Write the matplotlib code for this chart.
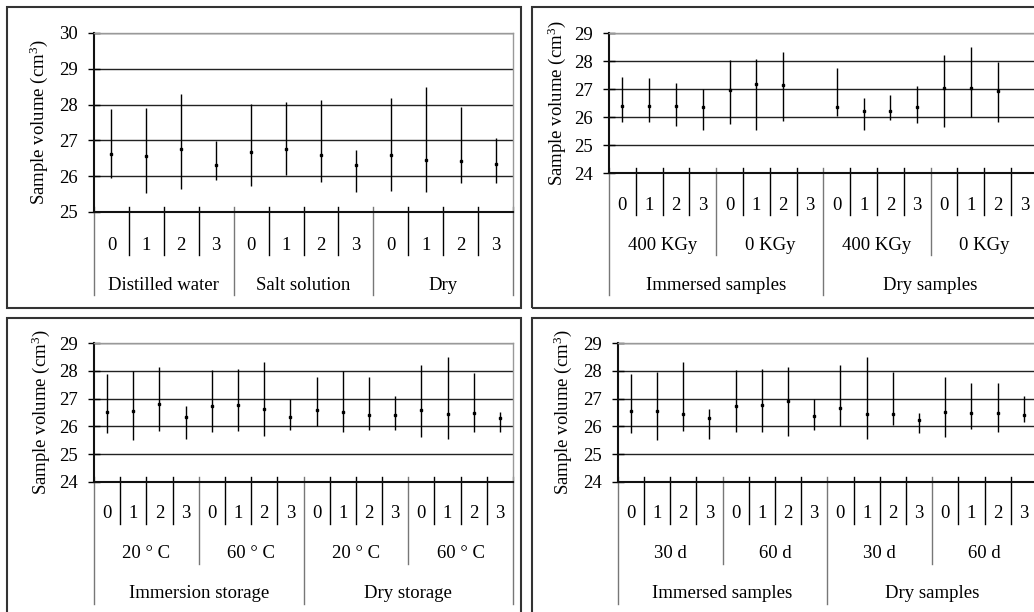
import numpy as np
import matplotlib
matplotlib.use("Agg")
import matplotlib.pyplot as plt
from matplotlib.patches import Rectangle
from matplotlib.transforms import blended_transform_factory

plt.rcParams['font.family'] = ['Liberation Serif', 'DejaVu Serif']
plt.rcParams['mathtext.fontset'] = 'custom'
plt.rcParams['mathtext.rm'] = 'Liberation Serif'
plt.rcParams['mathtext.it'] = 'Liberation Serif:italic'

W, H = 1034, 612
FS = 13.5
nan = np.nan

# --- data ---
digits = ['0', '1', '2', '3']

# panel A: storage medium
a_groups = ['Distilled water', 'Salt solution', 'Dry']
a_low = [25.95, 25.53, 25.64, 25.88, 25.72, 26.02, 25.83, 25.55, 25.60, 25.55, 25.81, 25.81]
a_high = [27.88, 27.90, 28.30, 26.99, 28.02, 28.07, 28.13, 26.72, 28.18, 28.48, 27.92, 27.08]
a_mean = [26.62, 26.56, 26.76, 26.30, 26.68, 26.76, 26.58, 26.30, 26.58, 26.46, 26.43, 26.34]

# panel B: irradiation
b_sub = ['400 KGy', '0 KGy', '400 KGy', '0 KGy']
b_groups = ['Immersed samples', 'Dry samples']
b_low = [25.81, 25.81, 25.67, 25.55, 25.75, 25.52, 25.85, nan,
         26.02, 25.55, 25.90, 25.79, 25.63, 25.99, 25.81, nan]
b_high = [27.42, 27.39, 27.21, 27.00, 28.05, 28.07, 28.31, nan,
          27.75, 26.68, 26.77, 27.10, 28.23, 28.49, 27.95, nan]
b_mean = [26.40, 26.40, 26.40, 26.35, 26.98, 27.18, 27.15, nan,
          26.35, 26.23, 26.23, 26.37, 27.04, 27.04, 26.92, nan]

# panel C: storage temperature
c_sub = ['20 ° C', '60 ° C', '20 ° C', '60 ° C']
c_groups = ['Immersion storage', 'Dry storage']
c_low = [25.76, 25.52, 25.85, 25.56, 25.80, 25.82, 25.64, 25.88,
         26.00, 25.80, 25.88, 25.88, 25.62, 25.56, 25.80, 25.79]
c_high = [27.88, 28.00, 28.12, 26.75, 28.04, 28.08, 28.32, 26.99,
          27.76, 28.00, 27.76, 27.08, 28.20, 28.48, 27.92, 26.52]
c_mean = [26.52, 26.57, 26.81, 26.33, 26.72, 26.78, 26.63, 26.33,
          26.60, 26.52, 26.42, 26.42, 26.60, 26.46, 26.48, 26.30]

# panel D: storage time
d_sub = ['30 d', '60 d', '30 d', '60 d']
d_groups = ['Immersed samples', 'Dry samples']
d_low = [25.76, 25.52, 25.85, 25.56, 25.80, 25.80, 25.64, 25.88,
         26.00, 25.56, 26.06, 25.76, 25.62, 25.91, 25.80, 26.16]
d_high = [27.88, 27.94, 28.30, 26.64, 28.04, 28.08, 28.12, 26.99,
          28.20, 28.48, 27.94, 26.48, 27.76, 27.56, 27.56, 27.08]
d_mean = [26.54, 26.54, 26.46, 26.30, 26.72, 26.78, 26.93, 26.36,
          26.66, 26.45, 26.45, 26.24, 26.52, 26.48, 26.48, 26.40]


fig = plt.figure(figsize=(W / 100, H / 100), dpi=100)


def frame(x0, y0, x1, y1):
    fig.add_artist(Rectangle((x0 / W, 1 - y1 / H), (x1 - x0) / W, (y1 - y0) / H,
                             transform=fig.transFigure, fill=False,
                             lw=1.5, ec='#333333'))


def panel(box, plot, ylim, low, high, mean, levels, label_x):
    frame(*box)
    left, top, right, bottom = plot
    ax = fig.add_axes([left / W, 1 - bottom / H, (right - left) / W, (bottom - top) / H])
    n = len(low)
    x = np.arange(n) + 0.5
    ax.vlines(x, low, high, color='black', lw=1)
    ax.plot(x, mean, ls='none', marker='s', ms=2, color='black')

    ax.set_xlim(0, n)
    ax.set_ylim(*ylim)
    ax.set_yticks(np.arange(ylim[0], ylim[1] + 1))
    ax.set_xticks([])
    ax.tick_params(axis='y', direction='inout', length=9, width=1, labelsize=FS, pad=7)
    ax.yaxis.grid(True, color='#222222', lw=1)
    ax.set_axisbelow(True)
    for s in ('left', 'bottom'):
        ax.spines[s].set_linewidth(1.5)
        ax.spines[s].set_color('#111111')
    for s in ('top', 'right'):
        ax.spines[s].set_linewidth(1)
        ax.spines[s].set_color('#999999')

    # category table under the axis
    h_px = bottom - top
    tr = blended_transform_factory(ax.transData, ax.transAxes)
    for i in range(n + 1):
        depth = 0
        for k, (labels, span, t_off, l_end) in enumerate(levels):
            if i % span == 0:
                depth = k
        l_end = levels[depth][3]
        col = 'black' if depth == 0 else '#777777'
        ax.plot([i, i], [5 / h_px, -l_end / h_px], color=col, lw=1,
                transform=tr, clip_on=False)
    for labels, span, t_off, l_end in levels:
        for j in range(n // span):
            ax.text(j * span + span / 2, -t_off / h_px, labels[j % len(labels)],
                    transform=tr, ha='center', va='center', fontsize=FS)

    fig.text(label_x / W, 1 - (top + bottom) / 2 / H, 'Sample volume (cm$^{3}$)',
             rotation=90, ha='center', va='center', fontsize=FS)
    return ax


panel((7, 7, 521, 308), (94, 33, 513, 212), (25, 30), a_low, a_high, a_mean,
      [(digits, 1, 33, 43), (a_groups, 4, 73, 83)], 39)

panel((532, 7, 1045, 308), (609, 33, 609 + 16 * 26.8, 173), (24, 29), b_low, b_high, b_mean,
      [(digits, 1, 32, 42), (b_sub, 4, 72, 82), (b_groups, 8, 112, 122)], 557)

panel((7, 318, 521, 625), (94, 343, 513, 482), (24, 29), c_low, c_high, c_mean,
      [(digits, 1, 32, 42), (c_sub, 4, 72, 82), (c_groups, 8, 112, 122)], 41)

panel((532, 318, 1045, 625), (617.7, 343, 617.7 + 16 * 26.2, 482), (24, 29), d_low, d_high, d_mean,
      [(digits, 1, 32, 42), (d_sub, 4, 72, 82), (d_groups, 8, 112, 122)], 563)

fig.savefig('out.png', dpi=100)
